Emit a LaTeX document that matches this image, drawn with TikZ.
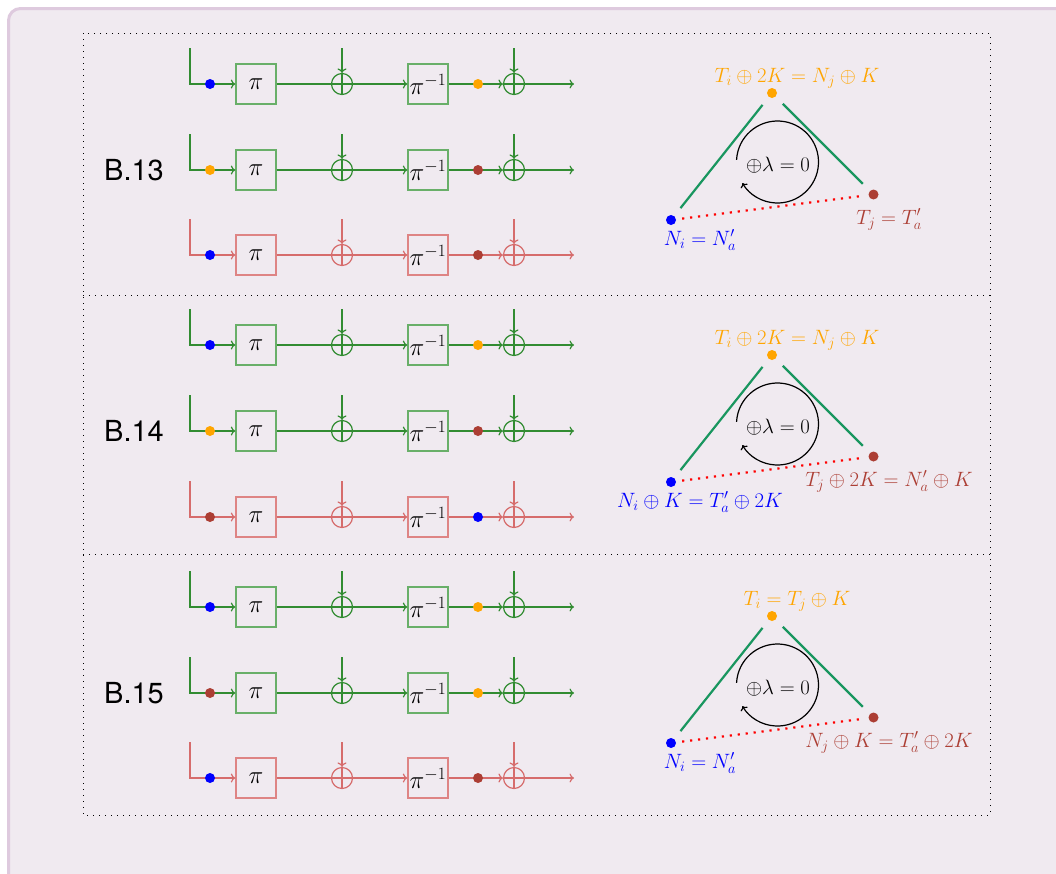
\documentclass[tikz,border=0pt]{standalone}
\usepackage{fontspec}
\newfontfamily\headfont{TeX Gyre Heros}
\usetikzlibrary{arrows.meta,calc}
\definecolor{framec}{RGB}{222,202,222}
\definecolor{framefill}{RGB}{240,234,240}
\definecolor{lgreen}{RGB}{50,140,50}
\definecolor{bgreen}{RGB}{105,175,105}
\definecolor{lred}{RGB}{214,108,108}
\definecolor{bred}{RGB}{222,132,132}
\definecolor{dblue}{RGB}{0,0,255}
\definecolor{dorange}{RGB}{255,165,0}
\definecolor{dbrown}{RGB}{172,62,52}
\definecolor{tgreen}{RGB}{25,150,95}
\definecolor{dred}{RGB}{255,0,0}
\tikzset{
  flow/.style={-{To[length=4.5pt,width=9pt]}},
  pibox/.style={draw, minimum width=40pt, minimum height=40pt, inner sep=0pt, line width=1.3pt, font=\fontsize{25}{30}\selectfont},
  xorc/.style={circle, draw, minimum size=21pt, inner sep=0pt, line width=1.2pt,
    path picture={\draw[line width=1.2pt] (path picture bounding box.north) -- (path picture bounding box.south)
      (path picture bounding box.west) -- (path picture bounding box.east);}},
  dot/.style={circle, inner sep=0pt, minimum size=10pt},
  rowline/.style={line width=1.2pt},
  triline/.style={tgreen, line width=2.2pt, shorten >=10pt, shorten <=10pt},
  redline/.style={dred, line width=2.2pt, dash pattern=on 2.2pt off 5.8pt, shorten >=6pt, shorten <=6pt},
  lbl/.style={inner sep=0pt, anchor=base, font=\fontsize{20.5}{24}\selectfont},
  cyc/.style={line width=1.2pt, -{To[length=4pt,width=8pt]}},
  sec/.style={font=\headfont\fontsize{29}{34}\selectfont, inner sep=0pt},
  framedot/.style={line width=1pt, dash pattern=on 1pt off 5pt}
}
% #1 name, #2 y, #3 line colour, #4 box colour, #5 first dot, #6 second dot
\newcommand\cipherrow[6]{%
  \coordinate (#1-in) at (190,{#2+36});
  \node[pibox, draw=#4] (#1-p) at (256,#2) {$\pi$};
  \node[xorc, color=#3] (#1-x1) at (342,#2) {};
  \node[pibox, draw=#4] (#1-q) at (428,#2) {$\pi^{-1}$};
  \node[xorc, color=#3] (#1-x2) at (514,#2) {};
  \coordinate (#1-t1) at (342,{#2+36});
  \coordinate (#1-t2) at (514,{#2+36});
  \coordinate (#1-out) at (574,#2);
  \draw[rowline, #3, flow] (#1-in) |- (#1-p.west);
  \draw[rowline, #3] (#1-p.east) -- (#1-x1.west);
  \draw[rowline, #3, flow] (#1-x1.east) -- (#1-q.west);
  \draw[rowline, #3, flow] (#1-q.east) -- (#1-x2.west);
  \draw[rowline, #3, flow] (#1-x2.east) -- (#1-out);
  \draw[rowline, #3, flow] (#1-t1) -- (#1-x1.north);
  \draw[rowline, #3, flow] (#1-t2) -- (#1-x2.north);
  \node[dot, fill=#5] (#1-a) at (210,#2) {};
  \node[dot, fill=#6] (#1-b) at (478,#2) {};
}
% #1 name, #2 offset, #3 top, #4 left, #5 right labels
\newcommand\cyctri[5]{%
  \node[dot, fill=dorange] (#1-T) at (772,{-93+#2}) {};
  \node[dot, fill=dblue] (#1-L) at (671,{-220+#2}) {};
  \node[dot, fill=dbrown] (#1-R) at (873.5,{-194.5+#2}) {};
  \draw[triline] (#1-T) -- (#1-L);
  \draw[triline] (#1-T) -- (#1-R);
  \draw[redline] (#1-L) -- (#1-R);
  \node[lbl, text=dorange] (#1-tl) at (797,{-82.5+#2}) {$#3$};
  \node[lbl, text=dblue] (#1-ll) at (700,{-245+#2}) {$#4$};
  \node[lbl, text=dbrown] (#1-rl) at (889,{-224+#2}) {$#5$};
  \coordinate (#1-cc) at (777.5,{-162+#2});
  \node[inner sep=0pt, font=\fontsize{22.5}{27}\selectfont] (#1-eq) at (778,{-165+#2}) {$\oplus\lambda=0$};
  \draw[cyc] ([shift={(177:41)}]#1-cc) arc[start angle=177, end angle=-149, radius=41];
}
\begin{document}
\begin{tikzpicture}[x=1pt,y=1pt]
\useasboundingbox (0,0) rectangle (1056,-873);
\fill[white] (0,0) rectangle (1056,-873);
\begin{scope}
  \clip (0,0) rectangle (1056,-873);
  \draw[line width=3pt, draw=framec, fill=framefill, rounded corners=12pt] (8.5,-8.5) rectangle (1090,-910);
\end{scope}
\draw[framedot] (83,-33) rectangle (990,-815);
\draw[framedot] (83,-295) -- (990,-295);
\draw[framedot] (83,-554) -- (990,-554);
% B.13
\node[sec] (s13) at (134,-170) {B.13};
\cipherrow{a1}{-84}{lgreen}{bgreen}{dblue}{dorange}
\cipherrow{a2}{-170}{lgreen}{bgreen}{dorange}{dbrown}
\cipherrow{a3}{-255}{lred}{bred}{dblue}{dbrown}
\cyctri{ta}{0}{T_i\oplus 2K = N_j\oplus K}{N_i = N'_a}{T_j = T'_a}
% B.14
\node[sec] (s14) at (134,-431) {B.14};
\cipherrow{b1}{-345}{lgreen}{bgreen}{dblue}{dorange}
\cipherrow{b2}{-431}{lgreen}{bgreen}{dorange}{dbrown}
\cipherrow{b3}{-517}{lred}{bred}{dbrown}{dblue}
\cyctri{tb}{-262}{T_i\oplus 2K = N_j\oplus K}{N_i\oplus K = T'_a\oplus 2K}{T_j\oplus 2K = N'_a\oplus K}
% B.15
\node[sec] (s15) at (134,-693) {B.15};
\cipherrow{c1}{-607}{lgreen}{bgreen}{dblue}{dorange}
\cipherrow{c2}{-693}{lgreen}{bgreen}{dbrown}{dorange}
\cipherrow{c3}{-778}{lred}{bred}{dblue}{dbrown}
\cyctri{tc}{-523}{T_i = T_j\oplus K}{N_i = N'_a}{N_j\oplus K = T'_a\oplus 2K}
\end{tikzpicture}
\end{document}
